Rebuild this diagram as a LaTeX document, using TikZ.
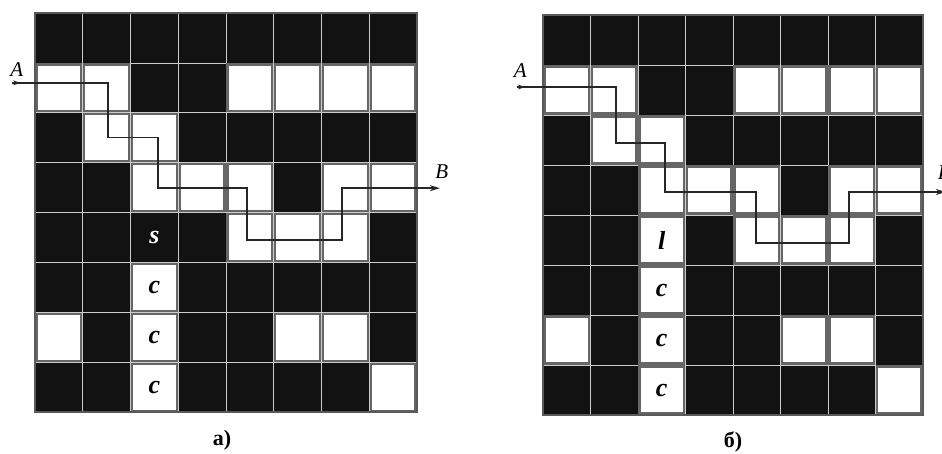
\documentclass[tikz,border=0pt]{standalone}
\usepackage{fontspec}
\setmainfont{Liberation Serif}
\usetikzlibrary{arrows.meta}
\tikzset{
  blackcell/.style={fill=black!93},
  gridline/.style={draw=black!20, line width=0.8pt},
  whitecell/.style={fill=white, draw=black!60, line width=2.2pt},
  frame/.style={draw=black!65, line width=2pt},
  route/.style={draw=black!85, line width=1.4pt},
  celllabel/.style={font=\fontsize{26}{26}\selectfont\bfseries\itshape, inner sep=0pt},
  endlabel/.style={font=\fontsize{21}{21}\selectfont\itshape, inner sep=0pt},
  caption/.style={font=\fontsize{22}{22}\selectfont\bfseries, inner sep=0pt},
  tipA/.style={-{Stealth[length=7pt,width=5pt]}},
  tipB/.style={-{Stealth[length=10pt,width=6pt]}},
}
\begin{document}
\begin{tikzpicture}[x=1pt,y=-1pt]
\useasboundingbox (0,0) rectangle (942,453);
\fill[white] (0,0) rectangle (942,453);
\clip (0,0) rectangle (942,453);

% ---------- grid a ----------
\begin{scope}[shift={(35pt,-13pt)}, x=47.75pt, y=-49.9pt]
  \fill[blackcell] (0,0) rectangle (8,8);
  \foreach \ii in {1,...,7} {
    \draw[gridline] (\ii,0) -- (\ii,8);
    \draw[gridline] (0,\ii) -- (8,\ii);
  }
  \foreach \cx/\ry in {0/1,1/1,4/1,5/1,6/1,7/1, 1/2,2/2, 2/3,3/3,4/3,6/3,7/3, 4/4,5/4,6/4, 2/5, 0/6,2/6,5/6,6/6, 2/7,7/7}
    \draw[whitecell] ([xshift=1.5pt,yshift=-1.5pt]\cx,\ry) rectangle ([xshift=-1.5pt,yshift=1.5pt]\cx+1,\ry+1);
  \draw[frame] (0,0) rectangle (8,8);
  \node[celllabel, text=white] (as) at (2.5,4.5) {s};
  \node[celllabel] (ac1) at (2.5,5.5) {c};
  \node[celllabel] (ac2) at (2.5,6.5) {c};
  \node[celllabel] (ac3) at (2.5,7.5) {c};
  \coordinate (aA) at (-0.48,1.40);
  \coordinate (aB) at (8.48,3.51);
  \node[endlabel] (aAlab) at (-0.38,1.14) {A};
  \node[endlabel] (aBlab) at (8.52,3.17) {B};
  \draw[route,tipB] (aA) -| (1.53,2.50) -| (2.58,3.51) -| (4.44,4.55) -| (6.43,3.51) -- (aB);
  \draw[route,tipA] (aA) -- ([xshift=8pt]aA);
\end{scope}

% ---------- grid b ----------
\begin{scope}[shift={(543pt,-15pt)}, x=47.5pt, y=-50pt]
  \fill[blackcell] (0,0) rectangle (8,8);
  \foreach \ii in {1,...,7} {
    \draw[gridline] (\ii,0) -- (\ii,8);
    \draw[gridline] (0,\ii) -- (8,\ii);
  }
  \foreach \cx/\ry in {0/1,1/1,4/1,5/1,6/1,7/1, 1/2,2/2, 2/3,3/3,4/3,6/3,7/3, 2/4,4/4,5/4,6/4, 2/5, 0/6,2/6,5/6,6/6, 2/7,7/7}
    \draw[whitecell] ([xshift=1.5pt,yshift=-1.5pt]\cx,\ry) rectangle ([xshift=-1.5pt,yshift=1.5pt]\cx+1,\ry+1);
  \draw[frame] (0,0) rectangle (8,8);
  \node[celllabel] (bl) at (2.5,4.5) {l};
  \node[celllabel] (bc1) at (2.5,5.5) {c};
  \node[celllabel] (bc2) at (2.5,6.5) {c};
  \node[celllabel] (bc3) at (2.5,7.5) {c};
  \coordinate (bA) at (-0.55,1.44);
  \coordinate (bB) at (8.48,3.54);
  \node[endlabel] (bAlab) at (-0.48,1.12) {A};
  \node[endlabel] (bBlab) at (8.45,3.15) {B};
  \draw[route,tipB] (bA) -| (1.54,2.56) -| (2.57,3.54) -| (4.48,4.56) -| (6.44,3.54) -- (bB);
  \draw[route,tipA] (bA) -- ([xshift=8pt]bA);
\end{scope}

\node[caption] (capa) at (222,440) {а)};
\node[caption] (capb) at (733,442) {б)};
\end{tikzpicture}
\end{document}
